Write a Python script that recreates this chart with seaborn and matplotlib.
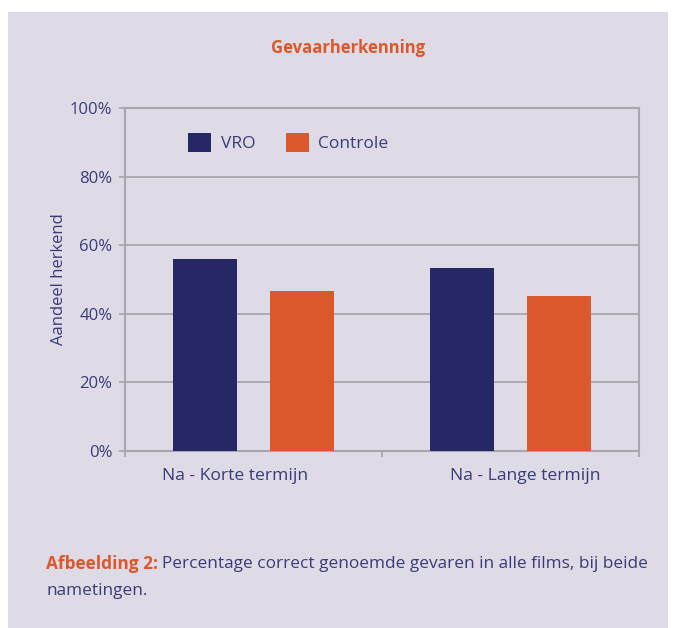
import matplotlib
matplotlib.use("Agg")
import matplotlib.pyplot as plt
import matplotlib.transforms as mtransforms
import seaborn as sns
import pandas as pd
from matplotlib.patches import Rectangle, Patch

categories = ["Na - Korte termijn", "Na - Lange termijn"]
groups = ["VRO", "Controle"]
vro = [56.0, 53.4]
controle = [46.6, 45.2]
yticks = [0, 20, 40, 60, 80, 100]

NAVY = "#252864"
ORANGE = "#db582c"
BG = "#dedbe6"
TEXT = "#3a3b7a"
GRID = "#a8a6ae"

sns.set_theme(style="white")
plt.rcParams['font.family'] = ['Open Sans', 'DejaVu Sans']

df = pd.DataFrame({
    "cat": categories * 2,
    "group": [groups[0]] * 2 + [groups[1]] * 2,
    "val": vro + controle,
})

fig = plt.figure(figsize=(6.76, 6.28), dpi=100, facecolor="white")
fig.patches.append(Rectangle((8/676, 0), 660/676, 1 - 12/628, transform=fig.transFigure,
                             facecolor=BG, edgecolor="none", zorder=-10))
ax = fig.add_axes([125/676, 1 - 451/628, 514/676, 343/628])
ax.set_facecolor(BG)

sns.barplot(data=df, x="cat", y="val", hue="group", palette=[NAVY, ORANGE], saturation=1,
            width=0.755, gap=0.34, linewidth=0, ax=ax, legend=False, zorder=3)

ax.set_xlim(-0.5, 1.5)
ax.set_ylim(0, 100)
ax.set_yticks(yticks)
ax.set_yticklabels([f"{v}%" for v in yticks])
ax.yaxis.grid(True, color=GRID, linewidth=1.3, zorder=0)
ax.set_axisbelow(True)
for s in ax.spines.values():
    s.set_color(GRID)
    s.set_linewidth(1.5)
ax.tick_params(axis="y", which="major", length=4, width=1.3, color=GRID, direction="out",
               labelsize=12, labelcolor=TEXT, pad=5, left=True)
ax.tick_params(axis="x", which="major", length=0, labelsize=12.6, labelcolor=TEXT, pad=12)
ax.set_xticks([-0.5, 0.5, 1.5], minor=True)
ax.tick_params(axis="x", which="minor", length=4, width=1.3, color=GRID, direction="out", bottom=True)
ax.set_xlabel("")
ax.set_ylabel("Aandeel herkend", fontsize=12, color=TEXT, labelpad=2.5)

# shift category labels like the reference
shifts = [-18, 15]
for lab, dx in zip(ax.get_xticklabels(), shifts):
    lab.set_transform(lab.get_transform() + mtransforms.ScaledTranslation(dx/100, 0, fig.dpi_scale_trans))

handles = [Patch(facecolor=NAVY, edgecolor="none"), Patch(facecolor=ORANGE, edgecolor="none")]
ax.legend(handles, groups, loc="center left", bbox_to_anchor=(0.1226, 0.899), ncol=2,
          frameon=False, borderpad=0, borderaxespad=0, handlelength=1.33, handleheight=1.33,
          handletextpad=0.55, columnspacing=1.75, labelcolor=TEXT, prop={"size": 12.5})

fig.text(348/676, 1 - 48/628, "Gevaarherkenning", color=ORANGE, fontsize=12,
         fontweight="bold", ha="center", va="center")

cap_size = 12.4
t1 = fig.text(46/676, 1 - 564/628, "Afbeelding 2:", color=ORANGE, fontsize=cap_size,
              fontweight="bold", ha="left", va="center")
fig.canvas.draw()
bb = t1.get_window_extent()
fig.text((bb.x1 + 4) / 676, 1 - 564/628,
         "Percentage correct genoemde gevaren in alle films, bij beide",
         color=TEXT, fontsize=cap_size, ha="left", va="center")
fig.text(46/676, 1 - 591/628, "nametingen.", color=TEXT, fontsize=cap_size,
         ha="left", va="center")

fig.savefig("out.png", dpi=100, facecolor="white")
